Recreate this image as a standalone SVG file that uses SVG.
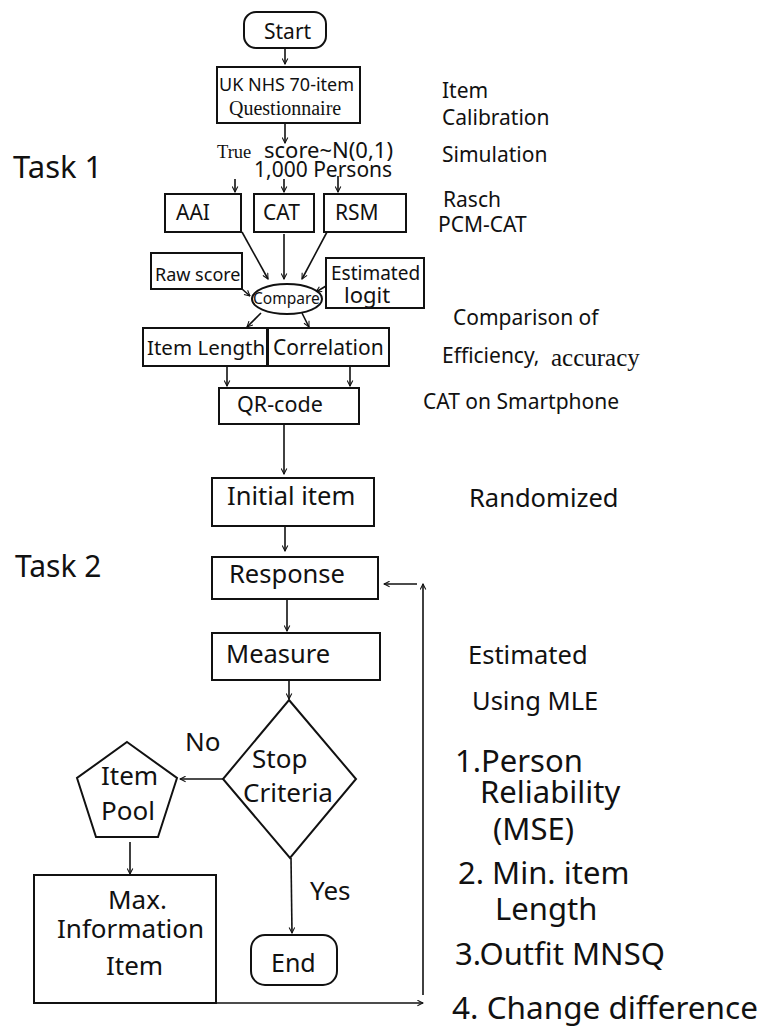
<svg xmlns="http://www.w3.org/2000/svg" width="761" height="1027" viewBox="0 0 761 1027">
<defs>
<marker id="ah" viewBox="0 0 10 10" refX="9" refY="5" markerWidth="7" markerHeight="7" markerUnits="userSpaceOnUse" orient="auto">
<path d="M1,1 L9,5 L1,9" fill="none" stroke="#111" stroke-width="1.5"/>
</marker>
<style>
.b{fill:#fff;stroke:#111;stroke-width:2}
.c{fill:none;stroke:#111;stroke-width:1.6}
.a{fill:none;stroke:#111;stroke-width:1.6;marker-end:url(#ah)}
text{font-family:"Noto Sans","Open Sans","DejaVu Sans",sans-serif;fill:#111}
.s{font-family:"Liberation Serif","DejaVu Serif",serif}
</style>
</defs>
<rect width="761" height="1027" fill="#fff"/>

<g id="connectors">
<line class="a" x1="285" y1="48" x2="285" y2="64"/>
<line class="a" x1="285" y1="123" x2="285" y2="143"/>
<line class="a" x1="235" y1="179" x2="235" y2="192"/>
<line class="a" x1="284" y1="179" x2="284" y2="192"/>
<line class="a" x1="338" y1="176" x2="338" y2="192"/>
<line class="a" x1="242" y1="232" x2="268" y2="279"/>
<line class="a" x1="284" y1="234" x2="284" y2="279"/>
<line class="a" x1="327" y1="232" x2="302" y2="279"/>
<line class="a" x1="242" y1="289" x2="250" y2="296"/>
<line class="a" x1="326" y1="286" x2="316" y2="292"/>
<line class="a" x1="261" y1="313" x2="247" y2="327"/>
<line class="a" x1="302" y1="313" x2="309" y2="327"/>
<line class="a" x1="227" y1="366" x2="227" y2="386"/>
<line class="a" x1="350" y1="366" x2="350" y2="386"/>
<line class="a" x1="284" y1="424" x2="284" y2="474"/>
<line class="a" x1="285" y1="526" x2="285" y2="551"/>
<line class="a" x1="287" y1="599" x2="287" y2="631"/>
<line class="a" x1="289" y1="680" x2="289" y2="699"/>
<line class="a" x1="223" y1="779" x2="180" y2="779"/>
<line class="a" x1="130" y1="842" x2="130" y2="874"/>
<line class="a" x1="291" y1="858" x2="292" y2="933"/>
<line class="a" x1="216" y1="1003" x2="423" y2="1003"/>
<line class="a" x1="423" y1="995" x2="423" y2="584"/>
<line class="a" x1="417" y1="584" x2="384" y2="584"/>
</g>

<g id="start"><rect class="b" x="244" y="12" width="82" height="36" rx="12"/><text x="264" y="39" font-size="21">Start</text></g>
<g id="questionnaire"><rect class="b" x="217" y="67" width="143" height="56"/><text x="219" y="91" font-size="18">UK NHS 70-item</text><text class="s" x="229" y="115" font-size="20">Questionnaire</text></g>
<g id="true-score"><text class="s" x="217" y="158" font-size="18.5">True</text><text x="264" y="158" font-size="22">score~N(0,1)</text><text x="254" y="177" font-size="21">1,000 Persons</text></g>
<g id="aai"><rect class="b" x="165" y="194" width="76" height="38"/><text x="176" y="220" font-size="21">AAI</text></g>
<g id="cat"><rect class="b" x="254" y="194" width="60" height="38"/><text x="263" y="220" font-size="21">CAT</text></g>
<g id="rsm"><rect class="b" x="324" y="194" width="82" height="38"/><text x="335" y="220" font-size="21">RSM</text></g>
<g id="raw-score"><rect class="b" x="151" y="253" width="91" height="36"/><text x="155" y="281" font-size="18">Raw score</text></g>
<g id="estimated-logit"><rect class="b" x="326" y="258" width="98" height="50"/><text x="331" y="280" font-size="19">Estimated</text><text x="344" y="303" font-size="22">logit</text></g>
<g id="compare"><ellipse class="b" cx="287" cy="299" rx="35" ry="15"/><text x="253" y="304" font-size="15.5">Compare</text></g>
<g id="item-length"><rect class="b" x="143" y="328" width="124" height="38"/><text x="147" y="355" font-size="20.5">Item Length</text></g>
<g id="correlation"><rect class="b" x="268" y="328" width="121" height="38"/><text x="273" y="355" font-size="21">Correlation</text></g>
<g id="qr-code"><rect class="b" x="219" y="388" width="140" height="36"/><text x="237" y="412" font-size="21.5">QR-code</text></g>
<g id="initial-item"><rect class="b" x="212" y="478" width="162" height="48"/><text x="227" y="505" font-size="25.5">Initial item</text></g>
<g id="response"><rect class="b" x="212" y="557" width="166" height="42"/><text x="229" y="583" font-size="25.5">Response</text></g>
<g id="measure"><rect class="b" x="212" y="633" width="168" height="47"/><text x="226" y="663" font-size="25.5">Measure</text></g>
<g id="stop-criteria"><polygon class="b" points="289,700 356,779 290,858 223,779"/><text x="252" y="768" font-size="26">Stop</text><text x="243" y="802" font-size="26">Criteria</text></g>
<g id="item-pool"><polygon class="b" points="127,742 177,778 158,837 96,837 77,778"/><text x="101" y="785" font-size="26">Item</text><text x="101" y="820" font-size="26">Pool</text></g>
<g id="max-info"><rect class="b" x="34" y="875" width="182" height="128"/><text x="108" y="909" font-size="26">Max.</text><text x="57" y="938" font-size="26">Information</text><text x="106" y="975" font-size="26">Item</text></g>
<g id="end"><rect class="b" x="251" y="935" width="86" height="50" rx="14"/><text x="271" y="972" font-size="25">End</text></g>

<g id="labels">
<text x="13" y="178" font-size="31">Task 1</text>
<text x="15" y="577" font-size="30">Task 2</text>
<text x="185" y="751" font-size="26">No</text>
<text x="310" y="900" font-size="26">Yes</text>
<text x="442" y="98" font-size="21">Item</text>
<text x="442" y="125" font-size="21">Calibration</text>
<text x="442" y="162" font-size="21">Simulation</text>
<text x="443" y="207" font-size="21">Rasch</text>
<text x="438" y="232" font-size="21">PCM-CAT</text>
<text x="453" y="325" font-size="21">Comparison of</text>
<text x="442" y="363" font-size="21">Efficiency,</text>
<text class="s" x="551" y="366" font-size="25">accuracy</text>
<text x="423" y="409" font-size="21">CAT on Smartphone</text>
<text x="469" y="507" font-size="25.5">Randomized</text>
<text x="468" y="664" font-size="25.5">Estimated</text>
<text x="472" y="710" font-size="25.5">Using MLE</text>
<text x="455" y="772" font-size="31">1.Person</text>
<text x="480" y="803" font-size="31">Reliability</text>
<text x="493" y="840" font-size="31">(MSE)</text>
<text x="458" y="884" font-size="31">2. Min. item</text>
<text x="495" y="920" font-size="31">Length</text>
<text x="455" y="965" font-size="31">3.Outfit MNSQ</text>
<text x="452" y="1019" font-size="31.5">4. Change difference</text>
</g>
</svg>
